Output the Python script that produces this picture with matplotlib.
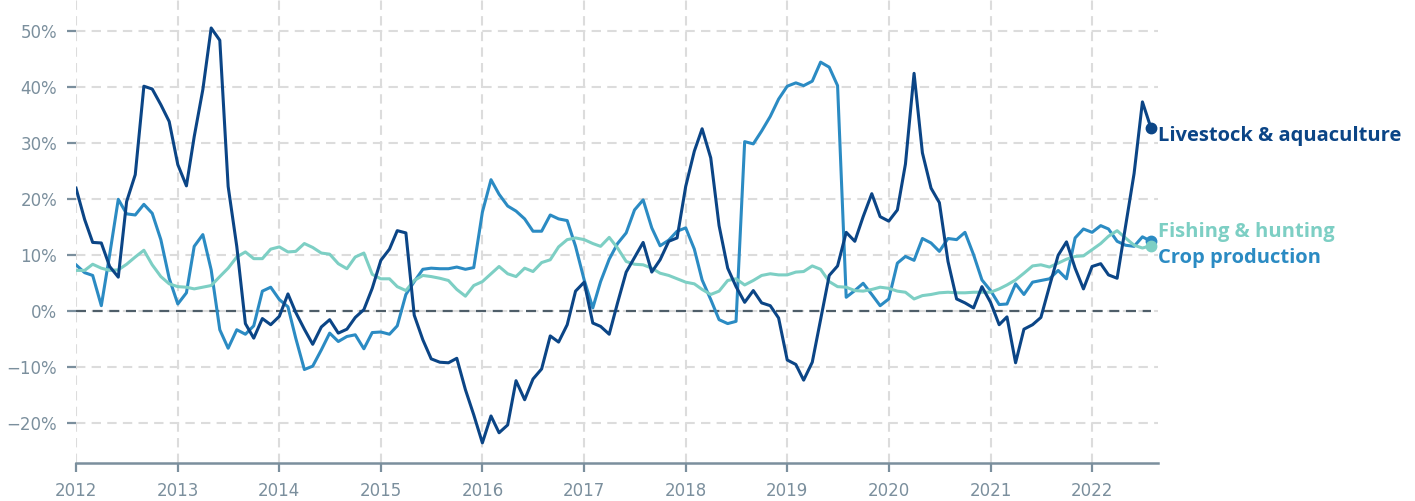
import matplotlib
matplotlib.use("Agg")
import matplotlib.pyplot as plt
import pandas as pd

# monthly year-over-year change, Jan 2012 - Aug 2022 (%)
months = pd.date_range("2012-01-01", periods=128, freq="MS")

livestock = [
    21.9, 16.3, 12.2, 12.1, 7.9, 6.0, 19.5, 24.3, 40.1, 39.6, 36.8, 33.8,
    26.1, 22.3, 31.1, 39.5, 50.5, 48.3, 22.2, 11.5, -2.3, -4.9, -1.4, -2.5,
    -1.0, 3.0, -0.3, -3.3, -6.0, -2.9, -1.6, -4.0, -3.3, -1.2, 0.2, 4.0,
    9.0, 11.0, 14.3, 13.9, -0.8, -5.2, -8.6, -9.2, -9.3, -8.5, -14.1, -18.6,
    -23.6, -18.8, -21.8, -20.4, -12.5, -15.9, -12.2, -10.4, -4.5, -5.6, -2.5, 3.5,
    5.1, -2.2, -2.8, -4.2, 1.4, 6.9, 9.5, 12.2, 6.9, 9.1, 12.4, 13.0,
    22.2, 28.5, 32.5, 27.3, 15.2, 7.6, 4.3, 1.5, 3.6, 1.4, 0.9, -1.3,
    -8.8, -9.6, -12.4, -9.2, -1.6, 6.3, 8.0, 14.0, 12.4, 16.8, 20.9, 16.8,
    16.0, 18.0, 26.2, 42.4, 28.2, 21.9, 19.3, 8.8, 2.1, 1.4, 0.5, 4.3,
    1.5, -2.5, -1.1, -9.3, -3.3, -2.5, -1.2, 4.4, 9.9, 12.3, 7.6, 3.9,
    7.9, 8.4, 6.4, 5.8, 15.0, 24.5, 37.3, 32.6,
]

crop = [
    8.2, 6.8, 6.3, 0.9, 10.0, 19.9, 17.3, 17.1, 19.0, 17.4, 12.7, 5.8,
    1.2, 3.2, 11.5, 13.6, 7.3, -3.4, -6.7, -3.4, -4.2, -2.7, 3.5, 4.2,
    2.0, 0.7, -4.9, -10.5, -9.9, -7.0, -4.0, -5.5, -4.6, -4.3, -6.8, -3.9,
    -3.8, -4.2, -2.7, 2.9, 5.2, 7.4, 7.6, 7.5, 7.5, 7.8, 7.4, 7.7,
    17.6, 23.4, 20.8, 18.7, 17.8, 16.4, 14.2, 14.2, 17.1, 16.4, 16.1, 11.5,
    5.5, 0.5, 5.2, 9.2, 12.0, 13.9, 18.0, 19.8, 14.8, 11.6, 12.6, 14.2,
    14.8, 11.0, 5.5, 2.0, -1.6, -2.3, -1.9, 30.2, 29.8, 32.1, 34.7, 37.8,
    40.1, 40.7, 40.2, 41.0, 44.4, 43.5, 40.2, 2.4, 3.6, 4.9, 2.9, 0.9,
    2.1, 8.5, 9.7, 9.0, 12.9, 12.1, 10.6, 12.9, 12.7, 14.0, 10.0, 5.5,
    3.6, 1.1, 1.2, 4.8, 2.9, 5.1, 5.4, 5.7, 7.2, 5.7, 13.0, 14.6,
    14.0, 15.2, 14.6, 12.4, 11.7, 11.5, 13.2, 12.4,
]

fishing = [
    7.2, 7.2, 8.3, 7.6, 7.2, 7.3, 8.3, 9.6, 10.8, 8.2, 6.1, 4.8,
    4.3, 4.2, 3.9, 4.2, 4.5, 6.1, 7.6, 9.6, 10.5, 9.3, 9.3, 11.0,
    11.4, 10.5, 10.6, 12.0, 11.3, 10.3, 10.1, 8.4, 7.5, 9.6, 10.3, 6.5,
    5.7, 5.7, 4.3, 3.6, 5.4, 6.3, 6.1, 5.8, 5.4, 3.8, 2.6, 4.5,
    5.2, 6.6, 7.9, 6.6, 6.1, 7.6, 7.0, 8.6, 9.1, 11.4, 12.7, 13.0,
    12.7, 12.0, 11.5, 13.1, 11.2, 8.8, 8.3, 8.2, 7.6, 6.7, 6.3, 5.7,
    5.1, 4.8, 3.8, 2.9, 3.5, 5.4, 5.7, 4.6, 5.4, 6.3, 6.6, 6.4,
    6.4, 6.9, 7.0, 8.0, 7.4, 5.2, 4.3, 4.2, 3.6, 3.5, 3.8, 4.2,
    4.0, 3.5, 3.3, 2.1, 2.7, 2.9, 3.2, 3.3, 3.2, 3.2, 3.3, 3.3,
    3.3, 3.9, 4.6, 5.5, 6.7, 8.0, 8.2, 7.8, 8.5, 9.2, 9.7, 9.8,
    10.9, 12.0, 13.3, 14.3, 13.0, 11.7, 11.2, 11.6,
]

years = list(range(2012, 2023))
y_ticks = [-20, -10, 0, 10, 20, 30, 40, 50]

AXIS_COLOR = "#7b8f9d"
GRID_COLOR = "#dcdcdc"
DASH = (0, (4.5, 3))

fig = plt.figure(figsize=(14.15, 5.01), dpi=100)
ax = fig.add_axes([76 / 1415, 38 / 501, (1158 - 76) / 1415, 463 / 501])

ax.grid(True, color=GRID_COLOR, lw=1.5, ls=DASH)
# zero reference line spans the data range only
ax.plot([months[0], months[-1]], [0, 0], color="#4f5e69", lw=1.6, ls=DASH,
        zorder=3)

series = [
    ("Crop production", crop, "#2b8bc3", 17),
    ("Fishing & hunting", fishing, "#7dcfc4", -14),
    ("Livestock & aquaculture", livestock, "#0b4586", 8),
]
for i, (name, vals, color, dy) in enumerate(series):
    ax.plot(months, vals, color=color, lw=2.2, zorder=4 + i)
    ax.plot(months[-1], vals[-1], "o", color=color, ms=7.5, zorder=8 + i)
    ax.annotate(name, xy=(months[-1], vals[-1]), xytext=(7, -dy),
                textcoords="offset pixels", ha="left", va="center",
                color=color, fontsize=14.5, fontweight="bold",
                family="Open Sans", annotation_clip=False)

ax.set_ylim(-27.2, 55.5)
ax.set_xlim(months[0], pd.Timestamp("2022-08-26"))
ax.set_yticks(y_ticks)
ax.set_yticklabels([f"{v}%".replace("-", "\u2212") for v in y_ticks])
ax.set_xticks([pd.Timestamp(f"{y}-01-01") for y in years])
ax.set_xticklabels([str(y) for y in years])

for side in ["top", "right", "left"]:
    ax.spines[side].set_visible(False)
ax.spines["bottom"].set_color(AXIS_COLOR)
ax.spines["bottom"].set_linewidth(1.8)
ax.tick_params(axis="both", colors=AXIS_COLOR, labelsize=12, length=6.5,
               width=1.6)
ax.tick_params(axis="y", pad=7)
ax.tick_params(axis="x", pad=7)

fig.savefig("out.png", dpi=100)
